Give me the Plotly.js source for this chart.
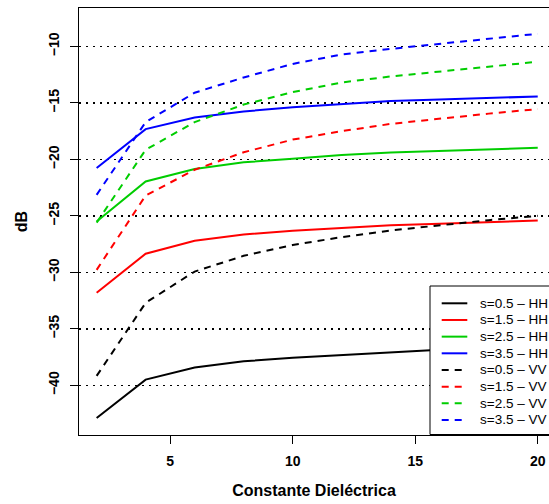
<!DOCTYPE html>
<html>
<head>
<meta charset="utf-8">
<script src="https://cdn.plot.ly/plotly-3.0.1.min.js"></script>
<style>
  html, body { margin: 0; padding: 0; background: #ffffff; }
  #chart { width: 549px; height: 504px; }
</style>
</head>
<body>
<div id="chart"></div>
<script>
// Dielectric constant (x) and backscatter (dB) for four roughness values s,
// horizontal (HH) and vertical (VV) polarisation.
const permittivity = [2, 4, 6, 8, 10, 12, 14, 16, 18, 20];

const hhS05 = [-42.9, -39.5, -38.43, -37.87, -37.57, -37.31, -37.07, -36.85, -36.7, -36.55];
const hhS15 = [-31.8, -28.35, -27.2, -26.65, -26.32, -26.06, -25.84, -25.7, -25.55, -25.42];
const hhS25 = [-25.5, -21.96, -20.86, -20.26, -19.95, -19.62, -19.4, -19.25, -19.12, -18.98];
const hhS35 = [-20.77, -17.32, -16.29, -15.76, -15.38, -15.08, -14.84, -14.7, -14.56, -14.43];

const vvS05 = [-39.17, -32.7, -29.93, -28.54, -27.58, -26.88, -26.3, -25.82, -25.38, -25.0];
const vvS15 = [-29.78, -23.2, -20.92, -19.37, -18.25, -17.5, -16.86, -16.38, -15.95, -15.55];
const vvS25 = [-25.6, -19.15, -16.7, -15.15, -14.05, -13.19, -12.66, -12.24, -11.77, -11.36];
const vvS35 = [-23.14, -16.7, -14.1, -12.75, -11.55, -10.71, -10.22, -9.76, -9.32, -8.88];

const seriesLabels = [
  's=0.5 \u2013 HH', 's=1.5 \u2013 HH', 's=2.5 \u2013 HH', 's=3.5 \u2013 HH',
  's=0.5 \u2013 VV', 's=1.5 \u2013 VV', 's=2.5 \u2013 VV', 's=3.5 \u2013 VV'
];
const roughnessColors = ['#000000', '#ff0000', '#00cd00', '#0000ff'];

const xTicks = [5, 10, 15, 20];
const yTicks = [-40, -35, -30, -25, -20, -15, -10];

const seriesValues = [hhS05, hhS15, hhS25, hhS35, vvS05, vvS15, vvS25, vvS35];
const DASH = '7px,6px';

const traces = seriesValues.map((vals, i) => ({
  type: 'scatter',
  mode: 'lines',
  name: seriesLabels[i],
  x: permittivity,
  y: vals,
  line: {
    color: roughnessColors[i % 4],
    width: 2,
    dash: i < 4 ? 'solid' : DASH
  },
  hoverinfo: 'x+y+name'
}));

// Plot area in pixels (used to place the hand-built key box).
const W = 549, H = 504;
const M = { l: 79, r: 0, t: 8, b: 69 };
const plotW = W - M.l - M.r, plotH = H - M.t - M.b;
const px = v => (v - M.l) / plotW;
const py = v => (H - M.b - v) / plotH;

const shapes = [];
const annotations = [];

// Key box in the lower right corner
shapes.push({
  type: 'rect', xref: 'paper', yref: 'paper',
  x0: px(430), x1: 1.1, y0: py(434.5), y1: py(286),
  fillcolor: '#ffffff', line: { color: '#000000', width: 1 }, layer: 'above'
});
seriesLabels.forEach((label, i) => {
  const rowY = 303.3 + i * 16.67;
  shapes.push({
    type: 'line', xref: 'paper', yref: 'paper',
    x0: px(441.7), x1: px(467.3), y0: py(rowY), y1: py(rowY),
    line: { color: roughnessColors[i % 4], width: 2, dash: i < 4 ? 'solid' : DASH },
    layer: 'above'
  });
  annotations.push({
    xref: 'paper', yref: 'paper', x: px(477.5), y: py(rowY),
    xanchor: 'left', yanchor: 'middle', showarrow: false,
    text: label,
    font: { family: 'Liberation Sans, Arial, sans-serif', size: 13.5, color: '#000000' }
  });
});

const boldFont = (size) => ({
  family: 'Liberation Sans, Arial, sans-serif', size: size, color: '#000000', weight: 'bold'
});

const layout = {
  width: W, height: H,
  margin: M,
  showlegend: false,
  paper_bgcolor: '#ffffff',
  plot_bgcolor: '#ffffff',
  font: { family: 'Liberation Sans, Arial, sans-serif', color: '#000000' },
  xaxis: {
    range: [1.28, 20.46],
    tickmode: 'array', tickvals: xTicks, ticktext: xTicks.map(String),
    ticks: 'outside', ticklen: 8, tickwidth: 1, tickcolor: '#000000',
    ticklabelstandoff: 5,
    tickfont: boldFont(14),
    showgrid: false, zeroline: false,
    showline: true, mirror: true, linecolor: '#000000', linewidth: 1,
    automargin: false,
    title: { text: 'Constante Dieléctrica', font: boldFont(16), standoff: 17 }
  },
  yaxis: {
    range: [-44.4, -6.6],
    tickmode: 'array', tickvals: yTicks, ticktext: yTicks.map(v => '\u2212' + Math.abs(v)),
    ticks: 'outside', ticklen: 8, tickwidth: 1, tickcolor: '#000000',
    tickangle: -90,
    ticklabelstandoff: 5,
    tickfont: boldFont(14),
    showgrid: true, gridcolor: '#000000', gridwidth: 1.5, griddash: '2px,5px',
    zeroline: false,
    showline: true, mirror: false, linecolor: '#000000', linewidth: 1,
    automargin: false,
    title: { text: 'dB', font: boldFont(16), standoff: 14 }
  },
  shapes: shapes,
  annotations: annotations
};

Plotly.newPlot('chart', traces, layout, { displayModeBar: false, staticPlot: true });
</script>
</body>
</html>
